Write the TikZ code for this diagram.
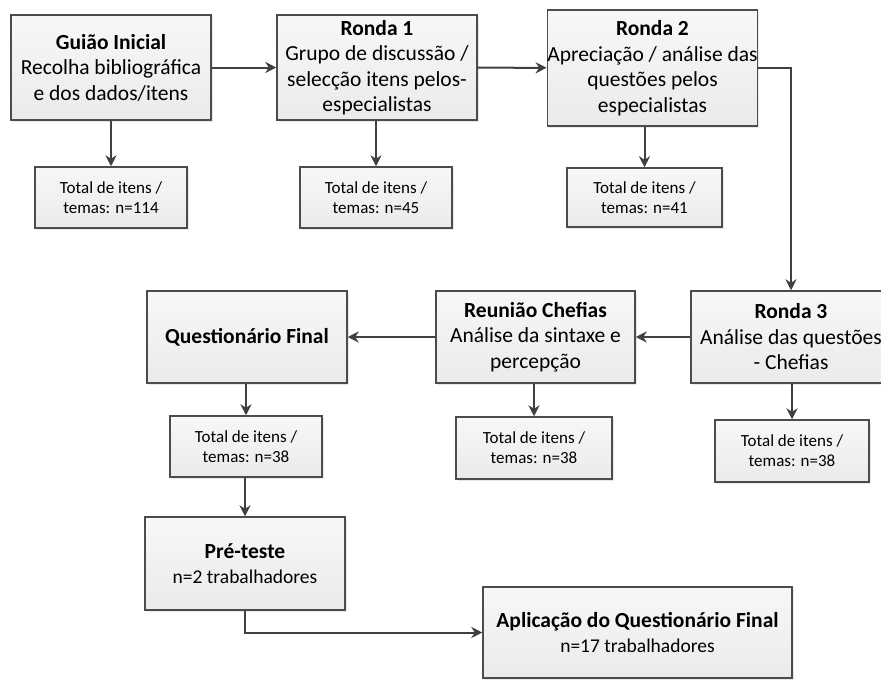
\documentclass[tikz,border=0pt]{standalone}
\usepackage{fontspec}
\setmainfont{Carlito}
\usepackage{tikz}
\usetikzlibrary{arrows.meta,shadows}

\begin{document}
\begin{tikzpicture}[
    x=1pt, y=-1pt,
    stage/.style={
        draw=black!70,
        line width=1.5pt,
        top color=black!3,
        bottom color=black!8,
        drop shadow={opacity=0.18, shadow xshift=1.5pt, shadow yshift=-1.5pt},
        minimum width=200pt,
        minimum height=92pt,
        inner sep=0pt,
        align=center,
        font=\fontsize{21.5}{25.5}\selectfont
    },
    tally/.style={
        draw=black!70,
        line width=1.5pt,
        top color=black!3,
        bottom color=black!8,
        drop shadow={opacity=0.18, shadow xshift=1.5pt, shadow yshift=-1.5pt},
        minimum width=152pt,
        minimum height=61pt,
        inner sep=0pt,
        align=center,
        font=\fontsize{17}{20}\selectfont
    },
    flow/.style={draw=black!75, line width=2pt, -{Stealth[length=11pt,width=11pt]}}
]
    \clip (0,0) rectangle (881,680);
    \fill[white] (0,0) rectangle (881,680);

    \node[stage, minimum height=105pt] (guiao) at (111,67.5)
        {\textbf{Guião Inicial}\\Recolha bibliográfica\\e dos dados/itens};
    \node[stage, minimum height=105pt] (rondaone) at (377,67.5)
        {\textbf{Ronda 1}\\Grupo de discussão /\\selecção itens pelos-\\especialistas};
    \node[stage, minimum width=205pt, minimum height=116pt] (rondatwo) at (652.5,68)
        {\textbf{Ronda 2}\\Apreciação / análise das\\questões pelos\\especialistas};
    \node[stage] (rondathree) at (791,337)
        {\textbf{Ronda 3}\\Análise das questões\\- Chefias};
    \node[stage, minimum width=199pt] (reuniao) at (535.5,337)
        {\textbf{Reunião Chefias}\\Análise da sintaxe e\\percepção};
    \node[stage] (questfinal) at (247,337)
        {\textbf{Questionário Final}};
    \node[stage, minimum height=93pt] (preteste) at (245,563.5)
        {\textbf{Pré-teste}\\{\fontsize{19.5}{24}\selectfont n=2 trabalhadores}};
    \node[stage, minimum width=309pt, minimum height=91pt] (aplicacao) at (637.5,632.5)
        {\textbf{Aplicação do Questionário Final}\\{\fontsize{19.5}{22}\selectfont n=17 trabalhadores}};

    \node[tally] (totguiao) at (111,197.5) {Total de itens /\\temas: n=114};
    \node[tally] (totone) at (376,197.5) {Total de itens /\\temas: n=45};
    \node[tally, minimum width=155pt, minimum height=59pt] (tottwo) at (644.5,197.5)
        {Total de itens /\\temas: n=41};
    \node[tally, minimum width=154pt, minimum height=62pt] (totthree) at (792,451)
        {Total de itens /\\temas: n=38};
    \node[tally, minimum width=156pt, minimum height=62pt] (totreuniao) at (534,448)
        {Total de itens /\\temas: n=38};
    \node[tally] (totfinal) at (246,446.5) {Total de itens /\\temas: n=38};

    \draw[flow] (guiao) -- (rondaone);
    \draw[flow] (rondaone) -- (rondatwo);
    \draw[flow] (rondatwo.east) -| (rondathree.north);
    \draw[flow] (rondathree) -- (reuniao);
    \draw[flow] (reuniao) -- (questfinal);

    \draw[flow] (guiao) -- (totguiao);
    \draw[flow] (rondaone.south -| totone.north) -- (totone);
    \draw[flow] (rondatwo.south -| tottwo.north) -- (tottwo);
    \draw[flow] (rondathree.south -| totthree.north) -- (totthree);
    \draw[flow] (reuniao.south -| totreuniao.north) -- (totreuniao);
    \draw[flow] (questfinal.south -| totfinal.north) -- (totfinal);
    \draw[flow] (totfinal.south -| preteste.north) -- (preteste);
    \draw[flow] (preteste.south) |- (aplicacao.west);
\end{tikzpicture}
\end{document}
